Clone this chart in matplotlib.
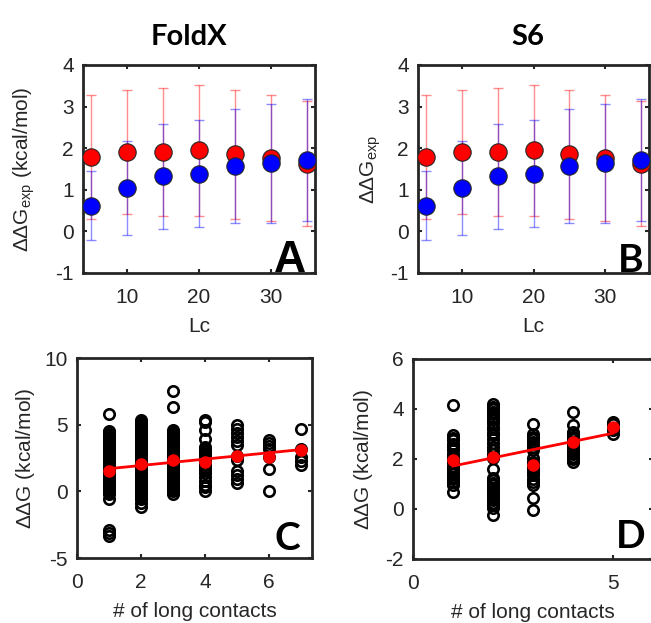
import numpy as np
import matplotlib.pyplot as plt

plt.rcParams['font.family'] = ['Liberation Sans', 'DejaVu Sans']
plt.rcParams['mathtext.fontset'] = 'custom'
plt.rcParams['mathtext.rm'] = 'Liberation Sans'
plt.rcParams['mathtext.it'] = 'Liberation Sans:italic'
plt.rcParams['axes.unicode_minus'] = False

# ddG_exp vs Lc (same curves in both top panels)
lc = [5, 10, 15, 20, 25, 30, 35]
ddg_red = [1.79, 1.91, 1.91, 1.95, 1.85, 1.77, 1.63]
err_red = [1.49, 1.50, 1.53, 1.57, 1.55, 1.52, 1.50]
ddg_blue = [0.62, 1.04, 1.32, 1.39, 1.57, 1.64, 1.72]
err_blue = [0.82, 1.13, 1.26, 1.28, 1.38, 1.43, 1.46]

# FoldX: ddG per number of long contacts
c_contacts = [1, 2, 3, 4, 5, 6, 7]
c_ddg = [
    [5.8, 4.55, 4.42, 4.3, 4.14, 3.98, 3.85, 3.7, 3.52, 3.4, 3.22, 3.08, 2.93,
     2.8, 2.62, 2.5, 2.33, 2.18, 2.04, 1.9, 1.72, 1.6, 1.45, 1.3, 1.12, 0.98,
     0.85, 0.7, 0.52, 0.4, 0.22, 0.08, -0.08, -0.2, -0.55, -2.9, -3.1, -3.35],
    [5.35, 5.2, 5.05, 4.9, 4.78, 4.62, 4.5, 4.35, 4.2, 4.05, 3.92, 3.78, 3.6,
     3.48, 3.32, 3.2, 3.05, 2.9, 2.75, 2.62, 2.48, 2.3, 2.18, 2.02, 1.88, 1.72,
     1.6, 1.45, 1.3, 1.15, 1.02, 0.88, 0.72, 0.6, 0.45, 0.3, 0.15, 0.02, -0.12,
     -0.28, -0.42, -0.58, -0.9, -1.15],
    [7.5, 6.3, 4.6, 4.45, 4.3, 4.15, 4.0, 3.85, 3.7, 3.55, 3.42, 3.25, 3.12,
     2.98, 2.82, 2.68, 2.52, 2.4, 2.25, 2.1, 1.95, 1.8, 1.65, 1.52, 1.38, 1.22,
     1.08, 0.92, 0.78, 0.62, 0.5, 0.35, 0.2, 0.05, -0.2],
    [5.38, 5.18, 4.6, 3.9, 3.3, 3.15, 3.0, 2.85, 2.7, 2.55, 2.4, 2.25, 2.0,
     1.75, 1.6, 1.4, 1.1, 0.8, 0.5, 0.3, 0.02],
    [4.95, 4.7, 4.35, 4.05, 3.75, 3.5, 2.65, 2.35, 1.55, 1.25, 0.95, 0.65],
    [3.85, 3.65, 3.4, 3.2, 2.6, 1.7, 0.02],
    [4.7, 3.2, 2.6, 2.3, 2.0],
]
c_mean = [1.5, 2.05, 2.38, 2.2, 2.68, 2.58, 3.08]
c_fit_x = [1, 7]
c_fit_y = [1.70, 3.13]

# S6: ddG per number of long contacts
d_contacts = [1, 2, 3, 4, 5]
d_ddg = [
    [4.15, 2.95, 2.85, 2.75, 2.6, 2.5, 2.35, 2.2, 2.1, 1.95, 1.85, 1.7, 1.6,
     1.5, 1.4, 1.3, 1.2, 1.1, 0.95, 0.7],
    [4.2, 4.1, 4.0, 3.9, 3.8, 3.7, 3.55, 3.45, 3.3, 3.2, 3.05, 2.95, 2.8, 2.65,
     2.5, 2.35, 2.2, 2.05, 1.6, 1.25, 1.15, 1.05, 0.95, 0.85, 0.75, 0.65, 0.55,
     0.45, 0.35, 0.25, 0.15, 0.05, -0.25],
    [3.4, 3.0, 2.9, 2.8, 2.7, 2.6, 2.5, 2.35, 2.05, 1.9, 1.8, 1.7, 1.6, 1.5,
     1.35, 1.2, 1.1, 0.95, 0.45, -0.05],
    [3.9, 3.35, 3.1, 3.0, 2.9, 2.8, 2.7, 2.6, 2.5, 2.4, 2.3, 2.2, 2.1, 2.0, 1.9],
    [3.5, 3.4, 3.25, 3.15, 3.0],
]
d_mean = [1.96, 2.09, 1.76, 2.69, 3.29]
d_fit_x = [1, 5]
d_fit_y = [1.72, 3.03]

dark = '#262626'
W, H = 651, 623
FS = 15


def style(ax):
    for s in ax.spines.values():
        s.set_color(dark)
        s.set_linewidth(2)
    ax.tick_params(direction='in', length=3, width=1.5, color=dark,
                   labelcolor=dark, labelsize=FS, top=True, right=True)
    ax.tick_params(axis='x', pad=11)
    ax.tick_params(axis='y', pad=6.5)


def lc_panel(ax):
    ax.errorbar(lc, ddg_red, yerr=err_red, fmt='none', ecolor='red', alpha=0.45,
                elinewidth=1, capsize=3.6, capthick=1, zorder=2)
    ax.errorbar(lc, ddg_blue, yerr=err_blue, fmt='none', ecolor='blue', alpha=0.45,
                elinewidth=1, capsize=3.6, capthick=1, zorder=2)
    ax.plot(lc, ddg_red, 'o', ms=12.5, mfc='red', mec=dark, mew=0.8, zorder=3)
    ax.plot(lc, ddg_blue, 'o', ms=12.5, mfc='blue', mec=dark, mew=0.8, zorder=4)
    ax.set_xlim(3.9, 36.1)
    ax.set_ylim(-1, 4)
    ax.set_xticks([10, 20, 30])
    ax.set_yticks([-1, 0, 1, 2, 3, 4])
    ax.set_xlabel('Lc', fontsize=FS, color=dark, labelpad=7)
    style(ax)


def contact_panel(ax, contacts, ddg, mean, fit_x, fit_y):
    for x, vals in zip(contacts, ddg):
        ax.plot(np.full(len(vals), x), vals, 'o', mfc='none', mec='black',
                ms=7.5, mew=1.9, zorder=2)
    ax.plot(fit_x, fit_y, '-', color='red', lw=2, zorder=3)
    ax.plot(contacts, mean, 'o', color='red', ms=8, zorder=4)
    ax.set_xlabel('# of long contacts', fontsize=FS, color=dark, labelpad=7)
    style(ax)


def px_axes(fig, left, right, top, bottom):
    return fig.add_axes([left / W, 1 - bottom / H, (right - left) / W, (bottom - top) / H])


fig = plt.figure(figsize=(W / 100, H / 100), dpi=100)

ax_a = px_axes(fig, 83, 315, 65, 273)
lc_panel(ax_a)
ax_a.set_ylabel(r'$\Delta\Delta$G$_{\rm exp}$ (kcal/mol)', fontsize=FS, color=dark)
ax_a.yaxis.set_label_coords(-0.2, 0.5)
ax_a.text(0.96, 0.005, 'A', transform=ax_a.transAxes, ha='right', va='baseline',
          fontsize=32, fontweight='bold')

ax_b = px_axes(fig, 418, 649, 65, 273)
lc_panel(ax_b)
ax_b.set_ylabel(r'$\Delta\Delta$G$_{\rm exp}$', fontsize=FS, color=dark)
ax_b.yaxis.set_label_coords(-0.15, 0.5)
ax_b.text(0.975, 0.005, 'B', transform=ax_b.transAxes, ha='right', va='baseline',
          fontsize=28, fontweight='bold', family='Lato')

ax_c = px_axes(fig, 77, 312, 358, 558)
contact_panel(ax_c, c_contacts, c_ddg, c_mean, c_fit_x, c_fit_y)
ax_c.set_xlim(0, 7.35)
ax_c.set_ylim(-5, 10)
ax_c.set_xticks([0, 2, 4, 6])
ax_c.set_yticks([-5, 0, 5, 10])
ax_c.set_ylabel(r'$\Delta\Delta$G (kcal/mol)', fontsize=FS, color=dark)
ax_c.yaxis.set_label_coords(-0.17, 0.5)
ax_c.text(0.95, 0.04, 'C', transform=ax_c.transAxes, ha='right', va='baseline',
          fontsize=28, fontweight='bold', family='Lato')

ax_d = px_axes(fig, 413, 653, 359, 559)
contact_panel(ax_d, d_contacts, d_ddg, d_mean, d_fit_x, d_fit_y)
ax_d.set_xlim(0, 6)
ax_d.set_ylim(-2, 6)
ax_d.set_xticks([0, 5])
ax_d.set_yticks([-2, 0, 2, 4, 6])
ax_d.set_ylabel(r'$\Delta\Delta$G (kcal/mol)', fontsize=FS, color=dark)
ax_d.yaxis.set_label_coords(-0.16, 0.5)
ax_d.text(0.967, 0.055, 'D', transform=ax_d.transAxes, ha='right', va='baseline',
          fontsize=28, fontweight='bold', family='Lato')

fig.text(189 / W, 1 - 45 / H, 'FoldX', ha='center', va='baseline',
         fontsize=21, fontweight='bold', family='Lato')
fig.text(528 / W, 1 - 45 / H, 'S6', ha='center', va='baseline',
         fontsize=21, fontweight='bold', family='Lato')

fig.savefig('out.png', dpi=100)
